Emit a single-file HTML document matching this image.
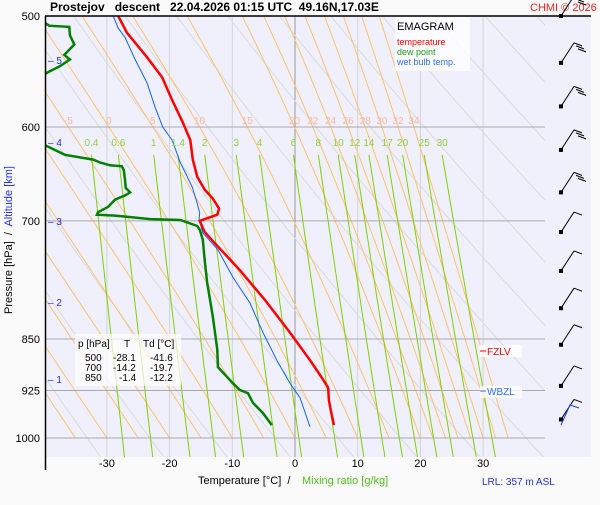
<!DOCTYPE html>
<html><head><meta charset="utf-8"><style>
body{margin:0;background:#fafafa;width:600px;height:500px;overflow:hidden;font-family:"Liberation Sans",sans-serif}
svg text{font-family:"Liberation Sans",sans-serif;white-space:pre}
</style></head><body>
<svg id="c" width="600" height="500" xmlns="http://www.w3.org/2000/svg">
<defs><clipPath id="pc"><rect x="45" y="16" width="500" height="441"/></clipPath></defs>
<rect x="45" y="16" width="546" height="441" fill="#f0f0fc"/>
<g id="grid" clip-path="url(#pc)"></g>
<g id="series" clip-path="url(#pc)"></g>
<g id="labels"></g>
<line x1="45" y1="16" x2="591" y2="16" stroke="#000" stroke-width="1.5"/>
<line x1="45.5" y1="16" x2="45.5" y2="470" stroke="#000" stroke-width="1.5"/>
<text x="50" y="11" font-size="12" font-weight="bold">Prostejov   descent   22.04.2026 01:15 UTC  49.16N,17.03E</text>
<text x="530" y="11" font-size="11" fill="#ff2020">CHMI © 2026</text>
<g>
<rect x="395" y="17" width="75" height="54" fill="#fff" opacity="0.8"/>
<text x="397" y="30" font-size="11">EMAGRAM</text>
<text x="397" y="45" font-size="9" fill="#ff0000">temperature</text>
<text x="397" y="55" font-size="9" fill="#1a9a1a">dew point</text>
<text x="397" y="65" font-size="9" fill="#3070ff">wet bulb temp.</text>
</g>
<g font-size="10">
<rect x="75" y="334" width="106" height="52" fill="#fff" opacity="0.7"/>
<text x="78" y="347">p [hPa]</text><text x="124" y="347">T</text><text x="143" y="347">Td [°C]</text>
<text x="85" y="361">500</text><text x="113" y="361">-28.1</text><text x="150" y="361">-41.6</text>
<text x="85" y="371">700</text><text x="113" y="371">-14.2</text><text x="150" y="371">-19.7</text>
<text x="85" y="381">850</text><text x="119" y="381">-1.4</text><text x="150" y="381">-12.2</text>
</g>
<text x="0" y="0" font-size="11" transform="translate(12,240) rotate(-90)" text-anchor="middle"><tspan fill="#000">Pressure [hPa]  /  </tspan><tspan fill="#2030ff">Altitude [km]</tspan></text>
<text x="198" y="484" font-size="11">Temperature [°C]  /</text>
<text x="302" y="484" font-size="11" fill="#50c020">Mixing ratio [g/kg]</text>
<text x="482" y="485" font-size="10" fill="#2030e0">LRL: 357 m ASL</text>
<g><rect x="480" y="345" width="42" height="12" fill="#fff" opacity="0.8"/><line x1="480" y1="351" x2="486" y2="351" stroke="#f00"/><text x="487" y="355" font-size="10" fill="#ff0000">FZLV</text></g>
<g><rect x="480" y="386" width="42" height="12" fill="#fff" opacity="0.8"/><line x1="480" y1="391" x2="486" y2="391" stroke="#3070ff"/><text x="487" y="395" font-size="10" fill="#3070ff">WBZL</text></g>
<g id="barbs"></g>
</svg>
<script>
const pressureTicks=[500,600,700,850,925,1000];
const tempTicks=[-30,-20,-10,0,10,20,30];
const altKm=[5,4,3,2,1];
const altY=[60,142,221,302,379];
const mixRatios=[0.4,0.6,1,1.4,2,3,4,6,8,10,12,14,17,20,25,30];
const thetaW=[-45,-40,-35,-30,-25,-20,-15,-10,-5,0,5,10,15,20,22,24,26,28,30,32,34];
const thetaWLabels=[-5,0,5,10,15,20,22,24,26,28,30,32,34];
const thetaDry=[230,240,250,260,270,280,290,300,310,320,330,340,350,360,370,380,390,400,410,420,430,440,450];
const tempP=[500,514,535,553,574,594,613,633,651,665,675,686,693,700,713,726,759,797,841,880,906,921,940,955,979];
const tempT=[-28.2,-26.8,-23.6,-21.2,-19.6,-18.0,-16.7,-16.3,-15.6,-14.4,-13.1,-12.1,-12.4,-15.2,-14.4,-12.8,-8.8,-4.8,-0.8,2.4,4.3,5.3,5.4,5.7,6.2];
const dewP=[500,508,509,516,524,533,537,543,549,560,612,619,628,633,636,639,640,644,655,663,668,671,676,684,690,693,694,698,699,703,706,710,722,747,775,820,865,890,905,914,924,929,944,960,979];
const dewT=[-41.6,-39.2,-36.0,-35.9,-35.2,-36.8,-35.9,-37.5,-39.6,-43,-43,-39.6,-36.7,-32.2,-31.1,-29.5,-27.6,-27.3,-27.1,-27.0,-26.3,-27.0,-28.7,-29.8,-31.4,-31.6,-28.7,-23.1,-18.3,-16.7,-15.6,-15.2,-14.7,-14.4,-14.0,-13.1,-12.4,-12.3,-10.8,-9.9,-8.8,-7.5,-6.7,-5.1,-3.7];
const wbP=[500,510,518,537,558,581,600,613,636,662,680,691,698,714,734,768,801,841,880,914,936,982];
const wbT=[-29.0,-28.2,-27.1,-25.5,-23.6,-22.3,-21.1,-19.6,-18.3,-16.4,-15.6,-15.2,-15.3,-14.7,-12.3,-9.9,-7.2,-5.1,-2.9,-0.8,0.8,2.4];
const barbP=[500,540,580,623,668,713,760,808,858,918,970];

const NS='http://www.w3.org/2000/svg';
const X=t=>295+6.27*t;
const Y=p=>16+422*Math.log2(p/500);
function mk(parent,tag,attrs){const e=document.createElementNS(NS,tag);for(const k in attrs)e.setAttribute(k,attrs[k]);document.getElementById(parent).appendChild(e);return e;}
function pathFrom(ps,ts){return ps.map((p,i)=>(i?'L':'M')+X(ts[i]).toFixed(1)+','+Y(p).toFixed(1)).join('');}
const es=t=>6.112*Math.exp(17.67*t/(t+243.5));
tempTicks.forEach(t=>{const l=mk('grid','line',{x1:X(t),x2:X(t),y1:16,y2:457,stroke:t===0?'#999':'#d4d4d4','stroke-width':1});


const tx=mk('labels','text',{x:X(t),y:467,'font-size':11,'text-anchor':'middle'});tx.textContent=t;

});
thetaDry.forEach(th=>{let d='';for(let p=480;p<=1050;p+=10){const T=th*Math.pow(p/1000,0.286)-273.15;d+=(d?'L':'M')+X(T).toFixed(1)+','+Y(p).toFixed(1);}
const e=mk('grid','path',{d:d,fill:'none',stroke:'#dadada','stroke-width':1});

});
function moist(tw){const pts=[];function dTdp(T,p){const Tc=T-273.15,e=es(Tc),rs=0.622*e/(p-e),L=2.5e6;return (287*T+L*rs)/p/(1004+L*L*rs*0.622/(287*T*T));}
let T=tw+273.15;for(let p=1000;p>=480;p-=2){pts.push([p,T]);T-=dTdp(T,p)*2;}return pts;}
thetaW.forEach(tw=>{const pts=moist(tw);const d=pts.map((q,i)=>(i?'L':'M')+X(q[1]-273.15).toFixed(1)+','+Y(q[0]).toFixed(1)).join('');
const e=mk('grid','path',{d:d,fill:'none',stroke:'#ffc070','stroke-width':1});


if(thetaWLabels.includes(tw)){const q=pts.find(r=>r[0]<=600)||pts[0];
const tx=mk('labels','text',{x:X(q[1]-273.15),y:124,'font-size':10,fill:'#ffb8a0','text-anchor':'middle'});tx.textContent=tw;

}});
mixRatios.forEach(w=>{let d='';for(let p=628;p<=1040;p+=6){const e=w*p/(622+w),l=Math.log(e/6.112),T=243.5*l/(17.67-l);d+=(d?'L':'M')+X(T).toFixed(1)+','+Y(p).toFixed(1);}
const e=mk('grid','path',{d:d,fill:'none',stroke:'#80d000','stroke-width':1});


const e0=w*628/(622+w),l0=Math.log(e0/6.112),T0=243.5*l0/(17.67-l0);
const tx=mk('labels','text',{x:X(T0),y:146,'font-size':10,fill:'#90d040','text-anchor':'middle'});tx.textContent=w;

});
pressureTicks.forEach(p=>{if(p>500){const l=mk('grid','line',{x1:45,x2:545,y1:Y(p),y2:Y(p),stroke:'#aaa','stroke-width':1});

}
const tx=mk('labels','text',{x:40,y:Y(p)+4,'font-size':11,'text-anchor':'end'});tx.textContent=p;

});
altKm.forEach((k,i)=>{const tx=mk('labels','text',{x:48,y:altY[i]+4,'font-size':10,fill:'#2030ff'});tx.textContent='– '+k;

});
let s=mk('series','path',{d:pathFrom(wbP,wbT),fill:'none',stroke:'#1060ff','stroke-width':1});


s=mk('series','path',{d:pathFrom(dewP,dewT),fill:'none',stroke:'#008000','stroke-width':2.5});


s=mk('series','path',{d:pathFrom(tempP,tempT),fill:'none',stroke:'#ff0000','stroke-width':2.5});


barbP.forEach((p,i)=>{const y=Y(p);const g=mk('barbs','g',{});


const n=i<5?3:1;
const x2=574,y2=y-20;
let d='M561,'+y+'L'+x2+','+y2;for(let k=0;k<n;k++){const bx=x2+k*2,by=y2+k*3;d+='M'+bx+','+by+'L'+(bx+8)+','+(by+3);}
const pe=document.createElementNS(NS,'path');pe.setAttribute('d',d);pe.setAttribute('stroke','#000');pe.setAttribute('fill','none');g.appendChild(pe);
const r=document.createElementNS(NS,'rect');r.setAttribute('x',559);r.setAttribute('y',y-2);r.setAttribute('width',4);r.setAttribute('height',4);g.appendChild(r);});
const bb=mk('barbs','path',{d:'M561,425L570,405L579,408',stroke:'#1040ff',fill:'none'});


</script>
</body></html>
